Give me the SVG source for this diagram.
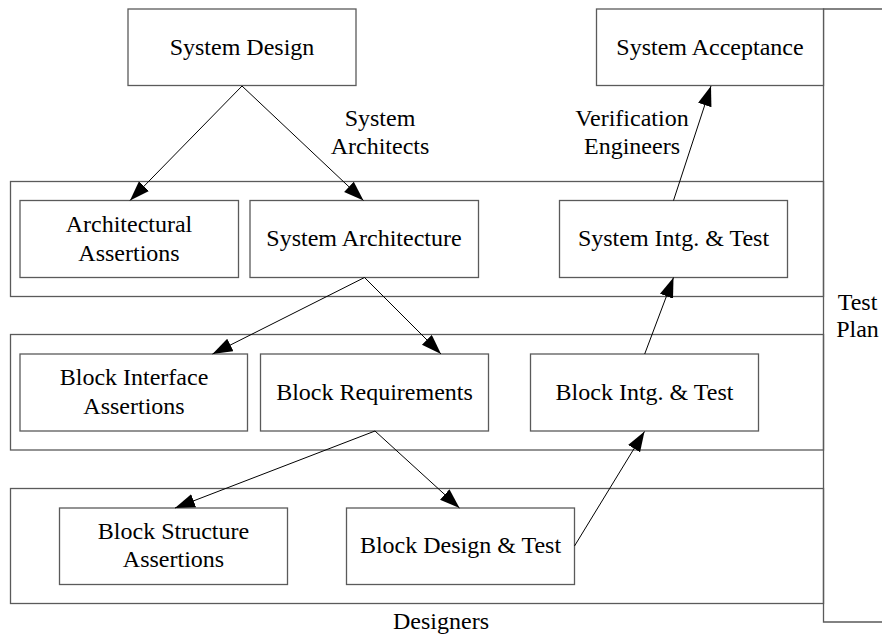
<svg xmlns="http://www.w3.org/2000/svg" width="882" height="636" viewBox="0 0 882 636">
<style>
  .box { fill: #ffffff; stroke: #5a5a5a; stroke-width: 1.3; }
  .band { fill: none; stroke: #5a5a5a; stroke-width: 1.3; }
  .conn { fill: none; stroke: #000000; stroke-width: 1; marker-end: url(#ah); }
  text { font-family: "Liberation Serif", "Times New Roman", serif; font-size: 24px; fill: #000000; text-anchor: middle; }
</style>
<defs>
  <marker id="ah" markerUnits="userSpaceOnUse" markerWidth="22" markerHeight="16" refX="20" refY="7" orient="auto">
    <path d="M0,0 L20,7 L0,14 Z" fill="#000000"/>
  </marker>
</defs>
<rect width="882" height="636" fill="#ffffff"/>

<g id="bands">
  <rect class="band" x="10.5" y="181.5" width="813" height="115"/>
  <rect class="band" x="10.5" y="334.5" width="813" height="115.5"/>
  <rect class="band" x="10.5" y="488.5" width="813" height="115"/>
</g>

<g id="test-plan">
  <path class="band" d="M882,9 H823.5 V622 H882"/>
  <text x="857.5" y="309.5">Test</text>
  <text x="857.5" y="336.5">Plan</text>
</g>

<g id="system-design">
  <rect class="box" x="128" y="9" width="228" height="76.5"/>
  <text x="242" y="54.5">System Design</text>
</g>

<g id="system-acceptance">
  <rect class="box" x="596.5" y="9" width="227" height="76.5"/>
  <text x="710" y="54.5">System Acceptance</text>
</g>

<g id="architectural-assertions">
  <rect class="box" x="20" y="200.5" width="218.5" height="77"/>
  <text x="129" y="231.7">Architectural</text>
  <text x="129" y="260.5">Assertions</text>
</g>

<g id="system-architecture">
  <rect class="box" x="250" y="200.5" width="228.5" height="77"/>
  <text x="364" y="245.7">System Architecture</text>
</g>

<g id="system-intg-test">
  <rect class="box" x="559.5" y="200.5" width="228" height="77"/>
  <text x="673.5" y="245.7">System Intg. &amp; Test</text>
</g>

<g id="block-interface-assertions">
  <rect class="box" x="20" y="354" width="227.5" height="77"/>
  <text x="134" y="384.7">Block Interface</text>
  <text x="134" y="413.7">Assertions</text>
</g>

<g id="block-requirements">
  <rect class="box" x="260.5" y="354" width="228" height="77"/>
  <text x="374.5" y="399.7">Block Requirements</text>
</g>

<g id="block-intg-test">
  <rect class="box" x="530.5" y="354" width="228" height="77"/>
  <text x="644.5" y="399.7">Block Intg. &amp; Test</text>
</g>

<g id="block-structure-assertions">
  <rect class="box" x="59.5" y="508" width="228" height="76.5"/>
  <text x="173.5" y="538.7">Block Structure</text>
  <text x="173.5" y="567.3">Assertions</text>
</g>

<g id="block-design-test">
  <rect class="box" x="346.5" y="508" width="228" height="76.5"/>
  <text x="460.5" y="553">Block Design &amp; Test</text>
</g>

<g id="labels">
  <text x="380" y="126">System</text>
  <text x="380" y="154.3">Architects</text>
  <text x="632" y="126">Verification</text>
  <text x="632" y="154.3">Engineers</text>
  <text x="441" y="628.5">Designers</text>
</g>

<g id="connectors">
  <line class="conn" x1="242" y1="86" x2="130" y2="200.5"/>
  <line class="conn" x1="242" y1="86" x2="363.5" y2="200.5"/>
  <line class="conn" x1="364.5" y1="277.5" x2="212.5" y2="354"/>
  <line class="conn" x1="364.5" y1="277.5" x2="441" y2="354"/>
  <line class="conn" x1="375" y1="431" x2="175" y2="508"/>
  <line class="conn" x1="375" y1="431" x2="459.5" y2="508"/>
  <line class="conn" x1="574.5" y1="546" x2="644.5" y2="431.5"/>
  <line class="conn" x1="644.7" y1="354" x2="673.5" y2="277.5"/>
  <line class="conn" x1="673.5" y1="200.5" x2="711" y2="86"/>
</g>
</svg>
